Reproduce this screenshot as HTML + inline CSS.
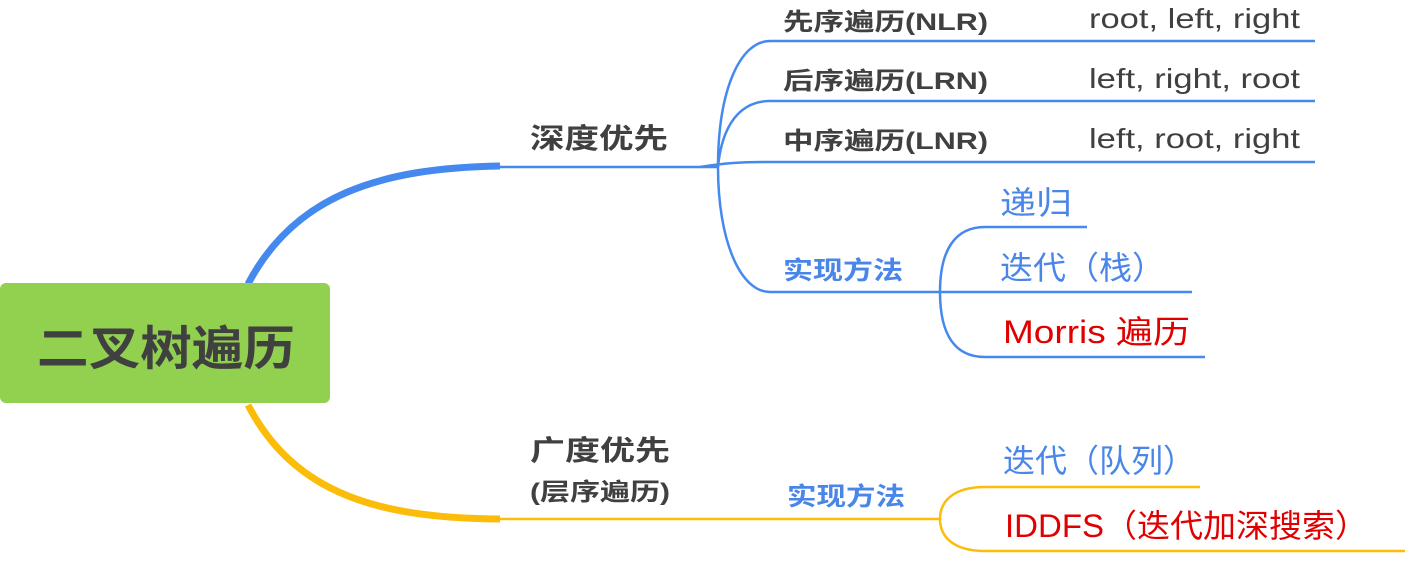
<!DOCTYPE html>
<html><head><meta charset="utf-8"><style>
html,body{margin:0;padding:0;background:#fff;width:1413px;height:570px;overflow:hidden}
svg{display:block}
text{font-family:"Liberation Sans","Noto Sans CJK SC",sans-serif}
.b{font-weight:bold;fill:#404040}
</style></head><body>
<svg width="1413" height="570" viewBox="0 0 1413 570" xmlns="http://www.w3.org/2000/svg">
<path d="M248,284 C295,195 380,168 500,166" stroke="#4589ee" stroke-width="7" fill="none"/>
<path d="M500,167 L718,167" stroke="#4589ee" stroke-width="2.5" fill="none"/>
<path d="M248,405 C295,495 380,518 500,519" stroke="#fbbd0a" stroke-width="7" fill="none"/>
<path d="M500,519 L940,519" stroke="#fbbd0a" stroke-width="2.5" fill="none"/>
<g stroke="#4589ee" stroke-width="2.5" fill="none">
<path d="M718,167 C718,90 740,41 770,41 L1315,41"/>
<path d="M718,167 C722,125 740,101 770,101 L1315,101"/>
<path d="M700,167 C725,163 740,162 770,162 L1315,162"/>
<path d="M718,167 C718,240 740,292 770,292 L940,292"/>
<path d="M940,292 C940,250 955,227 985,227 L1087,227"/>
<path d="M940,292 L1192,292"/>
<path d="M940,292 C940,335 955,357 985,357 L1205,357"/>
</g>
<g stroke="#fbbd0a" stroke-width="2.5" fill="none">
<path d="M940,519 C940,500 955,487 985,487 L1200,487"/>
<path d="M940,519 C940,538 955,551 985,551 L1405,551"/>
</g>
<rect x="0" y="283" width="330" height="120" rx="6" fill="#92d050"/>
<text x="37" y="365" class="b" font-size="47" textLength="258" lengthAdjust="spacingAndGlyphs">二叉树遍历</text>
<text x="530" y="148" class="b" font-size="28" textLength="138" lengthAdjust="spacingAndGlyphs">深度优先</text>
<text x="783" y="30" class="b" font-size="24" textLength="205" lengthAdjust="spacingAndGlyphs">先序遍历(NLR)</text>
<text x="783" y="89" class="b" font-size="24" textLength="205" lengthAdjust="spacingAndGlyphs">后序遍历(LRN)</text>
<text x="783" y="149" class="b" font-size="24" textLength="205" lengthAdjust="spacingAndGlyphs">中序遍历(LNR)</text>
<g font-size="28" fill="#404040">
<text x="1089" y="28" textLength="211" lengthAdjust="spacingAndGlyphs">root, left, right</text>
<text x="1089" y="88" textLength="211" lengthAdjust="spacingAndGlyphs">left, right, root</text>
<text x="1089" y="148" textLength="211" lengthAdjust="spacingAndGlyphs">left, root, right</text>
</g>
<text x="783" y="279" font-size="25" font-weight="bold" fill="#4a86e8" textLength="120" lengthAdjust="spacingAndGlyphs">实现方法</text>
<text x="1000" y="214" font-size="32" fill="#4a86e8" textLength="72" lengthAdjust="spacingAndGlyphs">递归</text>
<text x="1000" y="279" font-size="32" fill="#4a86e8" textLength="165" lengthAdjust="spacingAndGlyphs">迭代（栈）</text>
<text x="1003" y="343" font-size="32" fill="#e00000" textLength="187" lengthAdjust="spacingAndGlyphs">Morris 遍历</text>
<text x="530" y="460" class="b" font-size="28" textLength="140" lengthAdjust="spacingAndGlyphs">广度优先</text>
<text x="530" y="500" class="b" font-size="24" textLength="140" lengthAdjust="spacingAndGlyphs">(层序遍历)</text>
<text x="787" y="505" font-size="25" font-weight="bold" fill="#4a86e8" textLength="118" lengthAdjust="spacingAndGlyphs">实现方法</text>
<text x="1003" y="472" font-size="32" fill="#4a86e8" textLength="192" lengthAdjust="spacingAndGlyphs">迭代（队列）</text>
<text x="1005" y="537" font-size="32" fill="#e00000" textLength="363" lengthAdjust="spacingAndGlyphs">IDDFS（迭代加深搜索）</text>
</svg>
</body></html>
